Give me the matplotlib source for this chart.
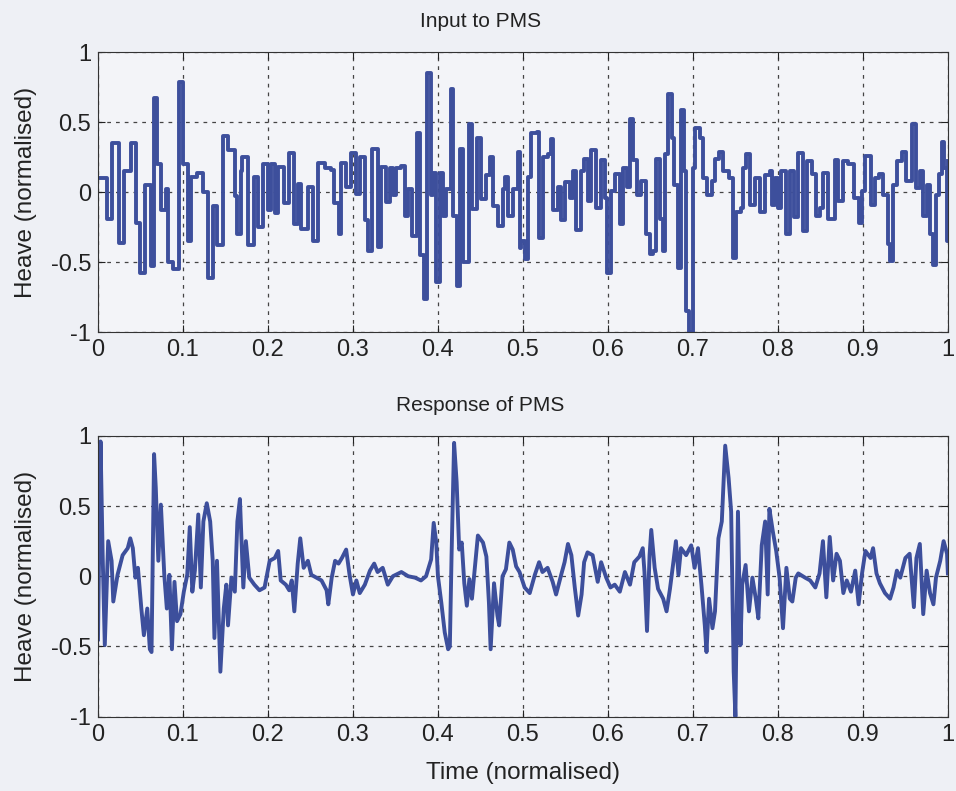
import matplotlib
matplotlib.use("Agg")
import matplotlib.pyplot as plt

plt.rcParams['font.family'] = ['Liberation Sans', 'DejaVu Sans']

# input heave (step-like signal)
input_t = [0.000, 0.011, 0.017, 0.025, 0.031, 0.039, 0.045, 0.049, 0.055, 0.062,
           0.066, 0.070, 0.074, 0.080, 0.082, 0.088, 0.095, 0.100, 0.106, 0.110,
           0.117, 0.123, 0.129, 0.135, 0.140, 0.147, 0.153, 0.161, 0.164, 0.168,
           0.170, 0.176, 0.184, 0.188, 0.194, 0.200, 0.204, 0.208, 0.212, 0.219,
           0.225, 0.231, 0.235, 0.239, 0.247, 0.253, 0.259, 0.267, 0.274, 0.278,
           0.283, 0.286, 0.292, 0.298, 0.304, 0.308, 0.314, 0.318, 0.322,
           0.329, 0.333, 0.339, 0.343, 0.347, 0.351, 0.357, 0.361, 0.365, 0.369,
           0.375, 0.379, 0.384, 0.387, 0.392, 0.394, 0.398, 0.402, 0.406, 0.410,
           0.415, 0.418, 0.423, 0.426, 0.430, 0.436, 0.440, 0.446, 0.451, 0.457,
           0.461, 0.465, 0.471, 0.477, 0.479, 0.483, 0.488, 0.494, 0.497,
           0.498, 0.502, 0.506, 0.510, 0.516, 0.519, 0.524, 0.529, 0.533, 0.535,
           0.541, 0.545, 0.549, 0.555, 0.559, 0.562, 0.568, 0.572, 0.576, 0.580,
           0.586, 0.592, 0.596, 0.599, 0.604, 0.608, 0.614, 0.618, 0.622, 0.626,
           0.630, 0.634, 0.639, 0.645, 0.649,
           0.653, 0.657, 0.661, 0.665, 0.667, 0.671, 0.675, 0.678, 0.682, 0.686,
           0.690, 0.692, 0.695, 0.700, 0.703, 0.708, 0.712, 0.717, 0.722, 0.726,
           0.731, 0.735, 0.743, 0.747, 0.751, 0.756, 0.759, 0.763, 0.767, 0.773,
           0.779, 0.785, 0.791, 0.793, 0.797, 0.800, 0.804, 0.810, 0.814,
           0.819, 0.824, 0.829, 0.834, 0.840, 0.845, 0.850, 0.853, 0.859, 0.867,
           0.871, 0.877, 0.883, 0.889, 0.895, 0.899, 0.903, 0.909, 0.914, 0.919,
           0.924, 0.929, 0.932, 0.936, 0.940, 0.946, 0.951, 0.958, 0.962, 0.967,
           0.971, 0.975, 0.979, 0.983, 0.986, 0.989, 0.993, 0.996, 0.999, 1.000]
input_v = [0.10, -0.19, 0.35, -0.36, 0.15, 0.35, -0.22, -0.58, 0.05, -0.53,
           0.67, 0.20, -0.13, 0.02, -0.50, -0.55, 0.79, 0.20, -0.35, 0.11,
           0.14, 0.00, -0.61, -0.10, -0.38, 0.40, 0.30, -0.03, -0.30, 0.15,
           0.25, -0.38, 0.11, -0.25, 0.20, -0.13, 0.20, -0.15, 0.18, -0.08,
           0.28, -0.23, 0.06, -0.26, 0.04, -0.35, 0.21, 0.17, 0.16, -0.08,
           -0.30, 0.21, 0.04, 0.28, -0.01, 0.25, -0.20, -0.42, 0.31,
           -0.39, 0.18, -0.07, 0.17, -0.02, 0.17, 0.19, -0.17, 0.02, -0.31,
           0.42, -0.45, -0.76, 0.85, -0.02, 0.14, -0.64, 0.14, -0.17, 0.02,
           0.74, -0.17, -0.67, 0.31, -0.50, 0.49, -0.12, 0.39, -0.05, 0.12,
           0.25, -0.10, -0.24, 0.02, 0.11, -0.17, 0.02, 0.29, -0.40,
           -0.35, -0.48, 0.11, 0.42, 0.43, -0.33, 0.25, 0.27, 0.38, -0.13,
           0.04, -0.20, 0.07, -0.04, 0.15, -0.27, 0.15, 0.24, -0.06, 0.30,
           -0.11, 0.23, -0.04, -0.58, 0.01, 0.13, -0.23, 0.17, 0.04, 0.52,
           0.23, -0.02, 0.08, -0.30, -0.44,
           -0.42, 0.24, -0.19, -0.42, 0.27, 0.70, 0.39, 0.05, -0.54, 0.59,
           0.15, -0.85, -1.00, 0.17, 0.46, 0.39, 0.10, -0.02, 0.08, 0.24,
           0.29, 0.15, 0.10, -0.47, -0.14, -0.11, 0.17, 0.27, -0.09, 0.10,
           -0.14, 0.12, 0.15, -0.09, 0.10, -0.11, 0.15, -0.30, 0.15,
           -0.18, 0.28, -0.28, 0.22, 0.13, -0.17, -0.11, 0.14, -0.19, 0.23,
           -0.06, 0.22, 0.20, -0.04, -0.22, 0.01, 0.26, -0.09, 0.10, 0.13,
           -0.02, -0.37, -0.49, 0.05, 0.22, 0.29, 0.08, 0.49, 0.03, 0.15,
           -0.17, 0.05, -0.30, -0.52, -0.02, 0.13, 0.36, 0.17, -0.35, 0.22]

# response of the PMS
resp_t = [0.000, 0.003, 0.0055, 0.008, 0.012, 0.016, 0.018, 0.023, 0.029, 0.035,
          0.038, 0.041, 0.044, 0.047, 0.051, 0.054, 0.058, 0.061, 0.063, 0.066,
          0.068, 0.071, 0.074, 0.078, 0.081, 0.084, 0.087, 0.090, 0.093, 0.097,
          0.101, 0.105, 0.108, 0.111, 0.114, 0.118, 0.121, 0.124, 0.128, 0.132,
          0.135, 0.137, 0.140, 0.144, 0.148, 0.151, 0.153, 0.157, 0.161, 0.164,
          0.167, 0.171, 0.174, 0.178, 0.184, 0.190, 0.196, 0.202, 0.208, 0.212,
          0.215, 0.221, 0.225, 0.228, 0.231, 0.235, 0.238, 0.242, 0.247, 0.251,
          0.257, 0.263, 0.269, 0.271, 0.275, 0.279, 0.283, 0.287, 0.292, 0.296,
          0.300, 0.304, 0.308, 0.314, 0.320, 0.325, 0.329, 0.335, 0.341, 0.347,
          0.357, 0.365, 0.373, 0.380, 0.386, 0.392, 0.395, 0.398, 0.400, 0.404,
          0.408, 0.412, 0.414, 0.416, 0.419, 0.422, 0.425, 0.428, 0.431, 0.434,
          0.437, 0.440, 0.444, 0.447, 0.453, 0.457, 0.460, 0.462, 0.466, 0.470,
          0.472, 0.476, 0.480, 0.484, 0.488, 0.492, 0.496, 0.502, 0.508, 0.514,
          0.519, 0.523, 0.529, 0.535, 0.539, 0.545, 0.549, 0.553, 0.557, 0.561,
          0.565, 0.569, 0.572, 0.576, 0.582, 0.588, 0.592, 0.598, 0.603, 0.608,
          0.614, 0.620, 0.626, 0.631, 0.637, 0.641, 0.643, 0.646, 0.649, 0.651,
          0.655, 0.659, 0.665, 0.669, 0.673, 0.677, 0.680, 0.683, 0.686, 0.692,
          0.698, 0.702, 0.706, 0.710, 0.714, 0.716, 0.719, 0.723, 0.726, 0.730,
          0.734, 0.738, 0.742, 0.745, 0.748, 0.750, 0.753, 0.756, 0.758, 0.762,
          0.766, 0.770, 0.774, 0.777, 0.781, 0.785, 0.788, 0.790, 0.794, 0.798,
          0.802, 0.806, 0.810, 0.814, 0.817, 0.821, 0.824, 0.832, 0.838, 0.844,
          0.849, 0.853, 0.857, 0.861, 0.865, 0.869, 0.873, 0.877, 0.881, 0.886,
          0.891, 0.895, 0.899, 0.903, 0.909, 0.912, 0.916, 0.920, 0.926, 0.932,
          0.936, 0.940, 0.944, 0.950, 0.955, 0.960, 0.963, 0.967, 0.971, 0.975,
          0.979, 0.983, 0.986, 0.991, 0.995, 0.999, 1.000]
resp_v = [-0.45, 0.96, 0.15, -0.49, 0.25, 0.11, -0.18, 0.01, 0.15, 0.20,
          0.27, 0.20, -0.01, 0.06, -0.23, -0.42, -0.23, -0.52, -0.54, 0.87,
          0.63, 0.11, 0.51, 0.01, -0.23, 0.01, -0.52, -0.04, -0.32, -0.27,
          -0.11, 0.01, 0.35, -0.11, 0.04, 0.44, -0.08, 0.39, 0.52, 0.39,
          0.11, -0.44, 0.11, -0.68, -0.23, -0.06, -0.35, -0.01, -0.11, 0.39,
          0.55, -0.08, 0.25, -0.01, -0.06, -0.10, -0.08, 0.11, 0.13, 0.18,
          -0.03, -0.06, -0.10, -0.03, -0.25, 0.09, 0.27, 0.06, 0.11, 0.01,
          -0.01, -0.03, -0.10, -0.20, -0.01, 0.11, 0.09, 0.13, 0.19, 0.01,
          -0.13, -0.03, -0.12, -0.06, 0.04, 0.09, 0.03, 0.06, -0.06, 0.00,
          0.03, 0.00, -0.01, -0.03, 0.00, 0.12, 0.38, 0.24, 0.00, -0.19,
          -0.40, -0.52, -0.50, 0.14, 0.95, 0.67, 0.19, 0.24, -0.05, -0.21,
          -0.02, -0.16, 0.10, 0.29, 0.24, 0.14, -0.19, -0.52, -0.05, -0.28,
          -0.35, 0.00, 0.05, 0.24, 0.19, 0.07, 0.03, -0.08, -0.12, 0.01,
          0.10, 0.03, 0.06, -0.04, -0.13, 0.01, 0.10, 0.23, 0.15, -0.08,
          -0.28, -0.13, 0.10, 0.17, 0.15, -0.04, 0.10, -0.01, -0.08, -0.06,
          -0.11, 0.03, -0.06, 0.10, 0.14, 0.20, 0.03, -0.39, 0.15, 0.33,
          0.06, -0.09, -0.16, -0.25, -0.09, 0.10, 0.25, 0.01, 0.20, 0.15,
          0.22, 0.06, 0.20, -0.06, -0.35, -0.54, -0.16, -0.37, -0.25, 0.27,
          0.39, 0.93, 0.70, 0.46, -0.68, -1.00, 0.46, -0.49, -0.06, 0.08,
          -0.25, -0.01, -0.16, -0.30, 0.22, 0.39, -0.13, 0.48, 0.32, 0.18,
          -0.01, -0.37, 0.06, -0.16, -0.18, -0.01, 0.02, -0.01, -0.03, -0.08,
          0.02, 0.25, -0.15, 0.28, -0.03, 0.16, 0.11, -0.12, -0.03, -0.11,
          0.04, -0.20, 0.02, 0.18, 0.13, 0.20, 0.02, -0.05, -0.12, -0.16,
          -0.08, 0.04, -0.01, 0.13, 0.16, -0.22, 0.13, 0.23, -0.27, 0.04,
          -0.12, -0.20, -0.01, 0.11, 0.25, 0.16, 0.02]

xticks = [0, 0.1, 0.2, 0.3, 0.4, 0.5, 0.6, 0.7, 0.8, 0.9, 1]
xlabels = ["0", "0.1", "0.2", "0.3", "0.4", "0.5", "0.6", "0.7", "0.8", "0.9", "1"]
yticks = [-1, -0.5, 0, 0.5, 1]
ylabels = ["-1", "-0.5", "0", "0.5", "1"]

bg = "#eef0f5"
line_col = "#3d4f9c"
txt = "#222222"

fig = plt.figure(figsize=(9.56, 7.91), dpi=100, facecolor=bg)
ax1 = fig.add_axes([0.1025, 0.580, 0.889, 0.354])
ax2 = fig.add_axes([0.1025, 0.094, 0.889, 0.355])

ax1.plot(input_t, input_v, color=line_col, lw=2.8, drawstyle="steps-post")
ax2.plot(resp_t, resp_v, color=line_col, lw=2.8)

for ax, title in [(ax1, "Input to PMS"), (ax2, "Response of PMS")]:
    ax.set_facecolor("#f3f4f8")
    ax.set_xlim(0, 1)
    ax.set_ylim(-1, 1)
    ax.set_xticks(xticks)
    ax.set_xticklabels(xlabels)
    ax.set_yticks(yticks)
    ax.set_yticklabels(ylabels)
    ax.grid(True, linestyle=(0, (3, 4)), color="#444444", lw=0.9)
    ax.tick_params(direction="in", top=True, right=True, labelsize=17,
                   length=5, pad=5, colors=txt)
    for s in ax.spines.values():
        s.set_color("#333333")
    # titles sit a bit left of centre in the scan
    ax.set_title(title, fontsize=15, pad=18, color=txt, x=0.45)
    ax.set_ylabel("Heave (normalised)", fontsize=17.5, color=txt, labelpad=10)

ax2.set_xlabel("Time (normalised)", fontsize=17.5, color=txt, labelpad=12)

plt.savefig("out.png", dpi=100, facecolor=bg)
